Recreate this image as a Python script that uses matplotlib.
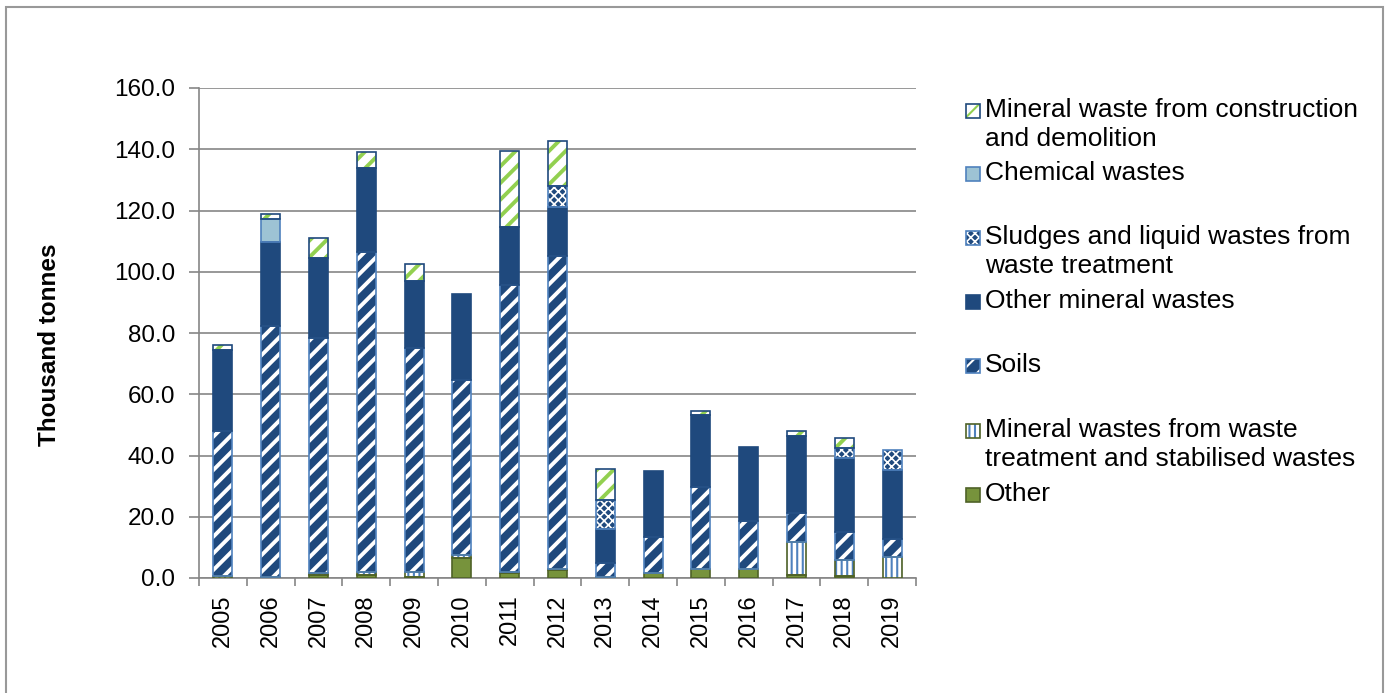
import numpy as np
import matplotlib
matplotlib.use('Agg')
import matplotlib.pyplot as plt
from matplotlib.patches import Rectangle

plt.rcParams['font.family'] = ['Liberation Sans', 'DejaVu Sans']
plt.rcParams['hatch.linewidth'] = 2.5

years = ['2005', '2006', '2007', '2008', '2009', '2010', '2011', '2012',
         '2013', '2014', '2015', '2016', '2017', '2018', '2019']

other = [0, 0, 1.0, 1.0, 0.3, 6.5, 1.5, 2.5, 0, 1.5, 3.0, 3.0, 1.0, 0.5, 0]
mineral_treatment = [0.5, 0.3, 0.5, 1.0, 1.5, 1.0, 0.5, 0.5, 0.3, 0, 0, 0, 10.8, 5.4, 6.9]
soils = [47.5, 82.0, 77.0, 104.5, 73.2, 57.0, 93.7, 102.0, 4.5, 11.9, 26.8, 15.6, 9.3, 9.1, 5.8]
other_mineral = [26.5, 27.4, 26.0, 27.5, 22.0, 28.2, 19.0, 16.0, 11.2, 21.6, 23.4, 24.3, 25.3, 24.2, 22.6]
sludges = [0, 0, 0, 0, 0, 0, 0, 7.0, 9.5, 0, 0, 0, 0, 3.2, 6.5]
chemical = [0, 7.5, 0, 0, 0, 0, 0, 0, 0, 0, 0, 0, 0, 0, 0]
construction = [1.5, 1.6, 6.5, 5.0, 5.5, 0, 24.8, 14.7, 10.0, 0, 1.4, 0, 1.6, 3.3, 0]

# bottom to top: (values, label, face, hatch, hatch colour, edge, hatch width)
series = [
    (other, 'Other', '#77933C', None, '#77933C', '#4F6228', 2.5),
    (mineral_treatment, 'Mineral wastes from waste\ntreatment and stabilised wastes',
     'white', '|||', '#4F81BD', '#4F6228', 1.5),
    (soils, 'Soils', '#1F497D', '//', 'white', '#4F81BD', 2.8),
    (other_mineral, 'Other mineral wastes', '#1F497D', None, '#1F497D', '#1F497D', 2.5),
    (sludges, 'Sludges and liquid wastes from\nwaste treatment', '#1F497D', 'xxxx', 'white', '#4F81BD', 1.2),
    (chemical, 'Chemical wastes', '#9DC3D4', None, '#9DC3D4', '#4F81BD', 2.5),
    (construction, 'Mineral waste from construction\nand demolition', 'white', '//', '#92D050', '#1F497D', 2.8),
]

fig = plt.figure(figsize=(13.9, 6.93), dpi=100)
ax = fig.add_axes([199 / 1390, 1 - 578 / 693, 717 / 1390, 490 / 693])

x = np.arange(len(years))
width = 0.4
bottom = np.zeros(len(years))
for vals, label, face, hatch, hcol, edge, hlw in series:
    v = np.array(vals, dtype=float)
    lw = np.where(v > 0, 1.2, 0)
    with plt.rc_context({'hatch.linewidth': hlw}):
        ax.bar(x, v, width, bottom=bottom, color=face, edgecolor=hcol,
               hatch=hatch, linewidth=0, zorder=3)
    ax.bar(x, v, width, bottom=bottom, fill=False, edgecolor=edge,
           linewidth=lw, zorder=4)
    bottom += v

ax.set_xlim(-0.5, len(years) - 0.5)
ax.set_ylim(0, 160)
ax.set_yticks(np.arange(0, 161, 20))
ax.set_yticklabels([f'{t:.1f}' for t in np.arange(0, 161, 20)])
ax.set_xticks(x)
ax.set_xticklabels(years, rotation=90)
ax.set_xticks(np.arange(-0.5, len(years)), minor=True)
ax.tick_params(axis='x', which='major', length=0, pad=12, labelsize=17)
ax.tick_params(axis='x', which='minor', length=6, color='#868686', width=1.2)
ax.tick_params(axis='y', length=7, color='#868686', width=1.2, pad=10, labelsize=17.5)
ax.grid(axis='y', color='#868686', linewidth=1.2, zorder=0)
for s in ['top', 'right']:
    ax.spines[s].set_visible(False)
for s in ['left', 'bottom']:
    ax.spines[s].set_color('#868686')
    ax.spines[s].set_linewidth(1.2)

ax.set_ylabel('Thousand tonnes', fontsize=17.5, fontweight='bold')
ax.yaxis.set_label_coords(-0.192, 0.475)

# legend drawn by hand to match the spacing of the original
legend_y = [111, 174, 238, 302, 366, 431, 495]
for (vals, label, face, hatch, hcol, edge, hlw), y in zip(series[::-1], legend_y):
    fy = 1 - y / 693
    sq = 14
    with plt.rc_context({'hatch.linewidth': min(hlw, 1.5)}):
        fig.patches.append(Rectangle((966 / 1390, fy - sq / 2 / 693), sq / 1390, sq / 693,
                                     transform=fig.transFigure, facecolor=face,
                                     edgecolor=hcol, hatch=hatch, linewidth=0))
    fig.patches.append(Rectangle((966 / 1390, fy - sq / 2 / 693), sq / 1390, sq / 693,
                                 transform=fig.transFigure, fill=False,
                                 edgecolor=edge, linewidth=1.2))
    fig.text(985 / 1390, fy + 13 / 693, label, fontsize=19,
             va='top', ha='left', linespacing=1.27)

# outer frame
fig.patches.append(Rectangle((6 / 1390, -0.05), 1377 / 1390, 1.05 - 7 / 693,
                             transform=fig.transFigure, fill=False,
                             edgecolor='#999999', linewidth=1.5))

fig.savefig('out.png', dpi=100)
